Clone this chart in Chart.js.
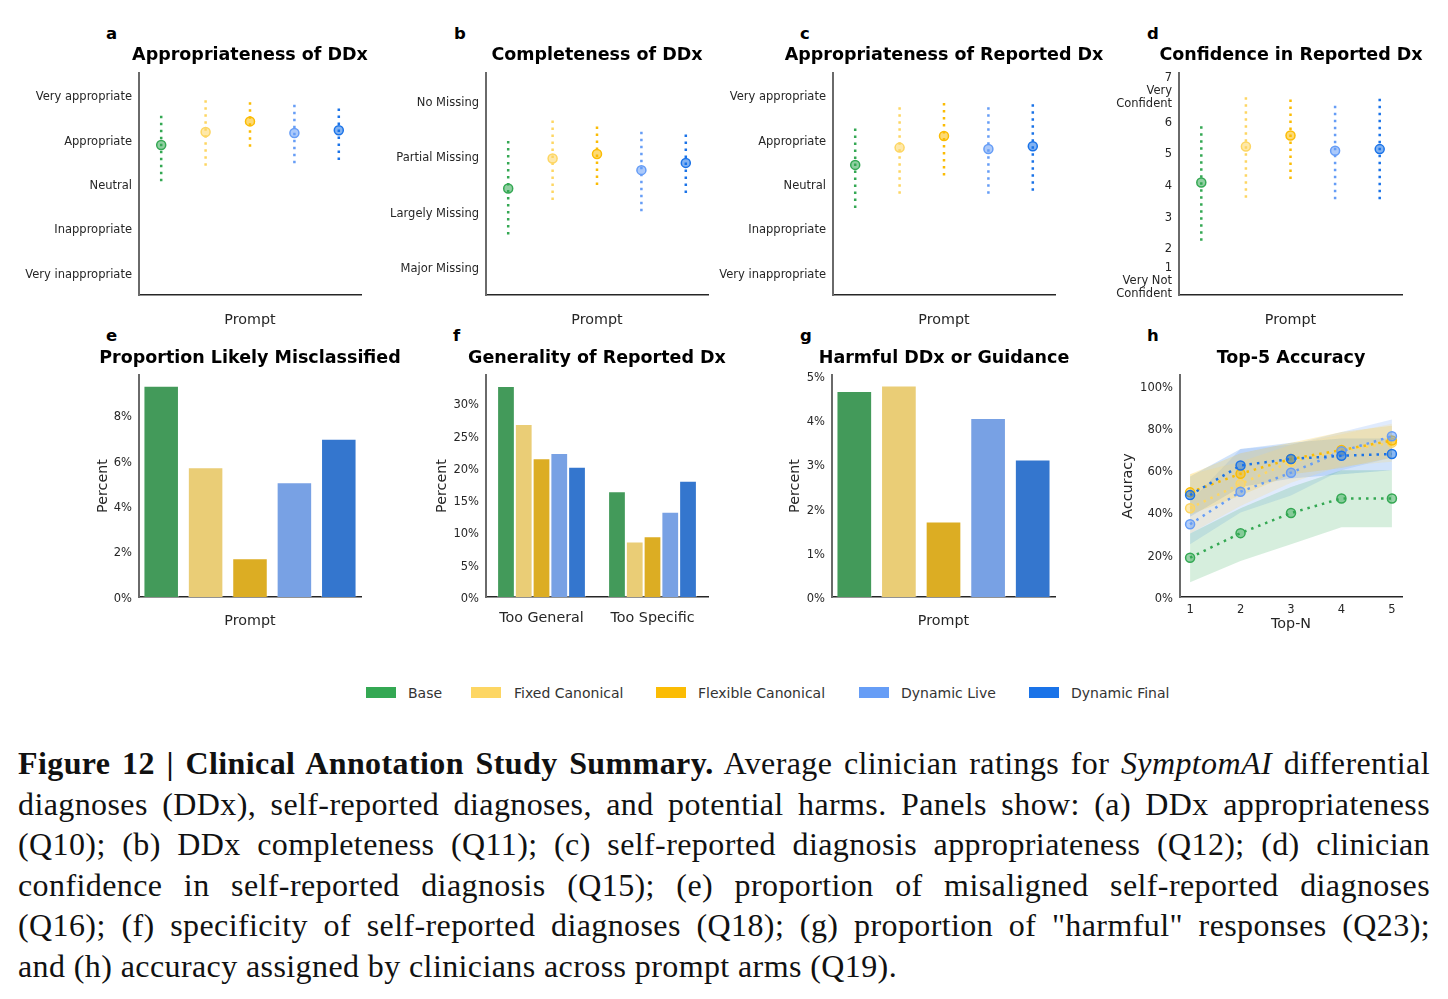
<!DOCTYPE html>
<html>
<head>
<meta charset="utf-8">
<script src="https://cdn.jsdelivr.net/npm/chart.js@4.4.1/dist/chart.umd.min.js"></script>
<style>
  body { margin: 0; background: #fff; width: 1448px; height: 999px; position: relative; overflow: hidden; font-family: 'DejaVu Sans', sans-serif; }
  canvas { position: absolute; }
  .letter { position: absolute; font-weight: bold; font-size: 16.5px; line-height: 1; color: #000; }
  .title { position: absolute; font-weight: bold; font-size: 17.5px; line-height: 1; white-space: nowrap; transform: translateX(-50%); color: #000; z-index: 2; }
  .sw { position: absolute; width: 30px; height: 11px; top: 687px; }
  .lt { position: absolute; top: 685.5px; font-size: 14px; line-height: 1; color: #333; white-space: nowrap; }
  #caption { position: absolute; left: 18px; top: 743px; width: 1412px; font-family: 'Liberation Serif', serif; font-size: 32px; letter-spacing: 0.4px; line-height: 40.5px; color: #111; }
  #caption div { white-space: nowrap; text-align: justify; text-align-last: justify; }
  #caption div.last { text-align-last: left; }
</style>
</head>
<body>

<div class="letter" style="left:106px;top:26px">a</div>
<div class="letter" style="left:454px;top:26px">b</div>
<div class="letter" style="left:800px;top:26px">c</div>
<div class="letter" style="left:1147px;top:26px">d</div>
<div class="letter" style="left:106px;top:328px">e</div>
<div class="letter" style="left:453px;top:328px">f</div>
<div class="letter" style="left:800px;top:328px">g</div>
<div class="letter" style="left:1147px;top:328px">h</div>

<div class="title" style="left:250px;top:46px">Appropriateness of DDx</div>
<div class="title" style="left:597px;top:46px">Completeness of DDx</div>
<div class="title" style="left:944px;top:46px">Appropriateness of Reported Dx</div>
<div class="title" style="left:1291px;top:46px">Confidence in Reported Dx</div>
<div class="title" style="left:250px;top:349px">Proportion Likely Misclassified</div>
<div class="title" style="left:597px;top:349px">Generality of Reported Dx</div>
<div class="title" style="left:944px;top:349px">Harmful DDx or Guidance</div>
<div class="title" style="left:1291px;top:349px">Top-5 Accuracy</div>

<div id="legend"></div>

<div id="caption">
  <div><b>Figure 12 | Clinical Annotation Study Summary.</b> Average clinician ratings for <i>SymptomAI</i> differential</div>
  <div>diagnoses (DDx), self-reported diagnoses, and potential harms. Panels show: (a) DDx appropriateness</div>
  <div>(Q10); (b) DDx completeness (Q11); (c) self-reported diagnosis appropriateness (Q12); (d) clinician</div>
  <div>confidence in self-reported diagnosis (Q15); (e) proportion of misaligned self-reported diagnoses</div>
  <div>(Q16); (f) specificity of self-reported diagnoses (Q18); (g) proportion of "harmful" responses (Q23);</div>
  <div class="last">and (h) accuracy assigned by clinicians across prompt arms (Q19).</div>
</div>

<script>
// prompt arms
const arms = ['Base', 'Fixed Canonical', 'Flexible Canonical', 'Dynamic Live', 'Dynamic Final'];
const armColors = ['#34A853', '#FDD663', '#FBBC04', '#669DF6', '#1A73E8'];
const barColors = ['#439A5A', '#EACD76', '#DCAD23', '#78A1E4', '#3476CE'];

// a - appropriateness of DDx (mean and interval)
const ddxApprMean = [3.88, 4.17, 4.41, 4.15, 4.21];
const ddxApprLow = [3.06, 3.41, 3.84, 3.47, 3.54];
const ddxApprHigh = [4.61, 4.93, 4.93, 4.86, 4.79];
const apprTicks = [1, 2, 3, 4, 5];
const apprLabels = ['Very inappropriate', 'Inappropriate', 'Neutral', 'Appropriate', 'Very appropriate'];

// b - completeness of DDx
const complMean = [2.42, 2.96, 3.04, 2.75, 2.88];
const complLow = [1.59, 2.21, 2.48, 2.01, 2.34];
const complHigh = [3.34, 3.72, 3.59, 3.51, 3.47];
const complTicks = [1, 2, 3, 4];
const complLabels = ['Major Missing', 'Largely Missing', 'Partial Missing', 'No Missing'];

// c - appropriateness of reported Dx
const dxApprMean = [3.43, 3.82, 4.08, 3.79, 3.85];
const dxApprLow = [2.46, 2.78, 3.19, 2.78, 2.85];
const dxApprHigh = [4.34, 4.79, 4.91, 4.80, 4.87];

// d - confidence in reported Dx
const confMean = [4.05, 5.18, 5.53, 5.05, 5.10];
const confLow = [2.21, 3.57, 4.16, 3.52, 3.52];
const confHigh = [5.85, 6.77, 6.77, 6.56, 6.69];
const confTicks = [1, 2, 3, 4, 5, 6, 7];
const confLabels = [['1', 'Very Not', 'Confident'], '2', '3', '4', '5', '6', ['7', 'Very', 'Confident']];

// e - proportion likely misclassified (%)
const misclassified = [9.29, 5.70, 1.70, 5.04, 6.96];
const misTicks = [0, 2, 4, 6, 8];

// f - generality of reported Dx (%)
const generalityCats = ['Too General', 'Too Specific'];
const genBase = [32.7, 16.4];
const genFixed = [26.8, 8.6];
const genFlex = [21.5, 9.4];
const genLive = [22.3, 13.2];
const genFinal = [20.2, 18.0];
const genTicks = [0, 5, 10, 15, 20, 25, 30];

// g - harmful DDx or guidance (%)
const harmful = [4.66, 4.78, 1.71, 4.05, 3.11];
const harmTicks = [0, 1, 2, 3, 4, 5];

// h - top-N accuracy (%)
const topN = [1, 2, 3, 4, 5];
const accBase = [18.6, 30.2, 39.7, 46.6, 46.6];
const accFixed = [42.0, 53.5, 64.0, 69.0, 73.0];
const accFlex = [49.5, 58.3, 65.3, 69.5, 74.0];
const accLive = [34.4, 49.8, 58.8, 68.9, 76.0];
const accFinal = [48.2, 62.2, 65.3, 66.8, 67.6];
const accBaseLo = [7, 17, 25, 33, 33];
const accBaseHi = [30, 42, 52, 60, 60];
const accFixedLo = [30, 43, 54, 62, 64];
const accFixedHi = [58, 64, 72, 77, 82];
const accFlexLo = [39, 48, 58, 61, 66];
const accFlexHi = [58, 68, 73, 78, 81];
const accLiveLo = [25, 40, 48, 60, 66];
const accLiveHi = [45, 70, 72, 78, 84];
const accFinalLo = [38, 52, 56, 58, 60];
const accFinalHi = [57, 70, 73, 75, 75];
const accTicks = [0, 20, 40, 60, 80, 100];

Chart.defaults.font.family = "'DejaVu Sans', sans-serif";
Chart.defaults.color = '#262626';

function rgba(hex, a) {
    const n = parseInt(hex.slice(1), 16);
    return `rgba(${n >> 16}, ${(n >> 8) & 255}, ${n & 255}, ${a})`;
}

// legend
const legendSw = [366, 471, 656, 859, 1029];
const legendTx = [408, 514, 698, 901, 1071];
const legend = document.getElementById('legend');
arms.forEach((a, i) => {
    legend.insertAdjacentHTML('beforeend',
        `<div class="sw" style="left:${legendSw[i]}px;background:${armColors[i]}"></div>` +
        `<div class="lt" style="left:${legendTx[i]}px">${a}</div>`);
});

function makeCanvas(g) {
    const c = document.createElement('canvas');
    c.width = g.W;
    c.height = g.H;
    c.style.left = g.L + 'px';
    c.style.top = g.T + 'px';
    document.body.appendChild(c);
    return c;
}

function baseOptions(g) {
    return {
        responsive: false,
        animation: false,
        layout: { padding: { left: 0, top: g.pt - g.T, right: g.L + g.W - g.pr, bottom: 0 } },
        plugins: { legend: { display: false }, tooltip: { enabled: false } }
    };
}

function yAxis(g, min, max, tickVals, labelFn, title) {
    return {
        min: min, max: max,
        afterBuildTicks: s => { s.ticks = tickVals.map(v => ({ value: v })); },
        afterFit: s => { s.width = g.pl - g.L; },
        ticks: { callback: labelFn, autoSkip: false, labelOffset: 2, font: { size: 11.5, lineHeight: 1.15 }, padding: 7, color: '#262626' },
        grid: { display: false, drawTicks: false },
        border: { color: '#6a6a6a', width: 2 },
        title: title ? { display: true, text: title, font: { size: 14.3 }, padding: { top: g.ytPad, bottom: 0 } } : { display: false }
    };
}

function xTitle(g, text) {
    return { display: true, text: text, font: { size: 14.3 }, padding: { top: 0, bottom: g.xtPad } };
}

function errorPanel(g, mean, low, high, yMin, yMax, tickVals, labels) {
    const datasets = arms.map((a, i) => ({
        label: a,
        data: [{ x: i, y: low[i] }, { x: i, y: high[i] }],
        showLine: true,
        borderColor: armColors[i],
        borderWidth: 2.5,
        borderDash: [2.5, 4.5],
        pointRadius: 0,
        order: 2
    }));
    datasets.push({
        label: 'mean',
        data: mean.map((m, i) => ({ x: i, y: m })),
        showLine: false,
        pointRadius: 4.5,
        pointBackgroundColor: armColors.map(c => rgba(c, 0.55)),
        pointBorderColor: armColors,
        pointBorderWidth: 1.5,
        order: 1
    });
    new Chart(makeCanvas(g), {
        type: 'scatter',
        data: { datasets },
        options: {
            ...baseOptions(g),
            scales: {
                x: {
                    type: 'linear', min: -0.5, max: 4.5,
                    ticks: { display: false },
                    grid: { display: false, drawTicks: false },
                    border: { color: '#262626', width: 1.5 },
                    title: xTitle(g, 'Prompt'),
                    afterFit: s => { s.height = g.T + g.H - g.pb; }
                },
                y: yAxis(g, yMin, yMax, tickVals, (v, i) => labels[i], null)
            }
        }
    });
}

function barPanel(g, labels, datasets, yMax, tickVals, xOpts, catPct, barPct) {
    new Chart(makeCanvas(g), {
        type: 'bar',
        data: {
            labels: labels,
            datasets: datasets.map(d => ({
                ...d,
                borderColor: 'rgba(255,255,255,0.4)',
                borderWidth: 1,
                categoryPercentage: catPct,
                barPercentage: barPct
            }))
        },
        options: {
            ...baseOptions(g),
            scales: {
                x: {
                    ...xOpts,
                    grid: { display: false, drawTicks: false },
                    border: { color: '#262626', width: 1.5 },
                    afterFit: s => { s.height = g.T + g.H - g.pb; }
                },
                y: yAxis(g, 0, yMax, tickVals, v => v + '%', 'Percent')
            }
        }
    });
}

// row 1: rating panels
errorPanel({ L: 0, T: 40, W: 372, H: 295, pl: 139, pt: 73, pr: 361, pb: 295, xtPad: 6.4 },
    ddxApprMean, ddxApprLow, ddxApprHigh, 0.5, 5.5, apprTicks, apprLabels);
errorPanel({ L: 360, T: 40, W: 358, H: 295, pl: 486, pt: 73, pr: 708, pb: 295, xtPad: 6.4 },
    complMean, complLow, complHigh, 0.5, 4.5, complTicks, complLabels);
errorPanel({ L: 700, T: 40, W: 365, H: 295, pl: 833, pt: 73, pr: 1055, pb: 295, xtPad: 6.4 },
    dxApprMean, dxApprLow, dxApprHigh, 0.5, 5.5, apprTicks, apprLabels);
errorPanel({ L: 1060, T: 40, W: 352, H: 295, pl: 1179, pt: 73, pr: 1402, pb: 295, xtPad: 6.4 },
    confMean, confLow, confHigh, 0.5, 7.5, confTicks, confLabels);

// row 2: bar panels
const promptX = g => ({ ticks: { display: false }, title: xTitle(g, 'Prompt') });

const gE = { L: 92, T: 340, W: 280, H: 300, pl: 139, pt: 375, pr: 361, pb: 597, xtPad: 9.7, ytPad: 2.7 };
barPanel(gE, arms, [{ data: misclassified, backgroundColor: barColors }], 9.76, misTicks, promptX(gE), 1, 0.8);

const gF = { L: 431, T: 340, W: 287, H: 300, pl: 486, pt: 375, pr: 708, pb: 597, xtPad: 9.7, ytPad: 2.7 };
const genSeries = [genBase, genFixed, genFlex, genLive, genFinal];
barPanel(gF, generalityCats,
    genSeries.map((s, i) => ({ label: arms[i], data: s, backgroundColor: barColors[i] })),
    34.4, genTicks,
    { ticks: { font: { size: 14.3 }, padding: 12.7, color: '#262626' }, title: { display: false } }, 0.8, 1);

const gG = { L: 784, T: 340, W: 281, H: 300, pl: 832, pt: 375, pr: 1055, pb: 597, xtPad: 9.7, ytPad: 2.4 };
barPanel(gG, arms, [{ data: harmful, backgroundColor: barColors }], 5.02, harmTicks, promptX(gG), 1, 0.8);

// h: top-N accuracy with bands
const gH = { L: 1117, T: 340, W: 295, H: 300, pl: 1180, pt: 375, pr: 1402, pb: 597, xtPad: 7.4, ytPad: 2.7 };
const accSeries = [accBase, accFixed, accFlex, accLive, accFinal];
const accLo = [accBaseLo, accFixedLo, accFlexLo, accLiveLo, accFinalLo];
const accHi = [accBaseHi, accFixedHi, accFlexHi, accLiveHi, accFinalHi];
const pts = arr => arr.map((v, i) => ({ x: topN[i], y: v }));
const accDatasets = [];
arms.forEach((a, i) => {
    accDatasets.push({ label: a + ' lo', data: pts(accLo[i]), borderWidth: 0, pointRadius: 0, fill: false, order: 10 });
    accDatasets.push({ label: a + ' hi', data: pts(accHi[i]), borderWidth: 0, pointRadius: 0, fill: '-1', backgroundColor: rgba(armColors[i], 0.2), order: 10 });
});
arms.forEach((a, i) => {
    accDatasets.push({
        label: a, data: pts(accSeries[i]), fill: false,
        borderColor: armColors[i], borderWidth: 2.5, borderDash: [2.5, 5], tension: 0,
        pointRadius: 4.5, pointBackgroundColor: rgba(armColors[i], 0.5),
        pointBorderColor: armColors[i], pointBorderWidth: 1.5,
        order: 5 - i
    });
});
new Chart(makeCanvas(gH), {
    type: 'line',
    data: { datasets: accDatasets },
    options: {
        ...baseOptions(gH),
        scales: {
            x: {
                type: 'linear', min: 0.8, max: 5.2,
                afterBuildTicks: s => { s.ticks = topN.map(v => ({ value: v })); },
                afterFit: s => { s.height = gH.T + gH.H - gH.pb; },
                ticks: { font: { size: 11.5 }, padding: 6.1, color: '#262626', autoSkip: false },
                grid: { display: false, drawTicks: false },
                border: { color: '#262626', width: 1.5 },
                title: xTitle(gH, 'Top-N')
            },
            y: yAxis(gH, 0, 105, accTicks, v => v + '%', 'Accuracy')
        }
    }
});
</script>
</body>
</html>
